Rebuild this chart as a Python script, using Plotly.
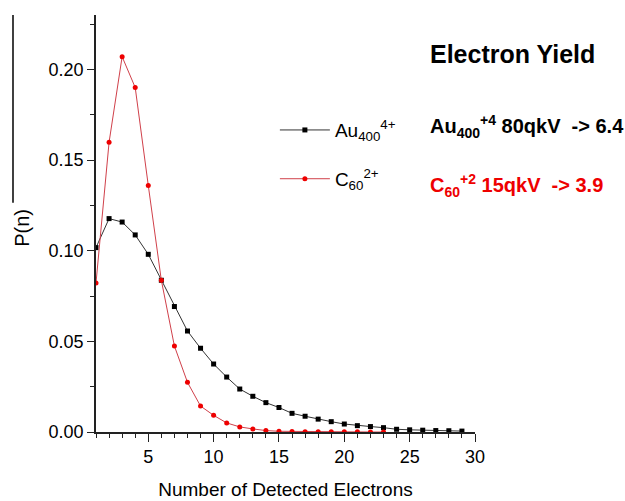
import plotly.graph_objects as go

n_au = list(range(1, 30))
p_au = [0.1017, 0.1177, 0.1158, 0.1087, 0.0980, 0.0837, 0.0692, 0.0557, 0.0462, 0.0375,
        0.0303, 0.0237, 0.0197, 0.0162, 0.0135, 0.0103, 0.0087, 0.0071, 0.0057, 0.0044,
        0.0035, 0.0030, 0.0024, 0.0015, 0.0012, 0.0010, 0.0008, 0.0007, 0.0005]

n_c60 = list(range(1, 24))
p_c60 = [0.0822, 0.1598, 0.2070, 0.1900, 0.1360, 0.0837, 0.0474, 0.0274, 0.0143, 0.0092,
         0.0050, 0.0028, 0.0017, 0.0008, 0.0004, 0.0003, 0.0002, 0.0002, 0.0001, 0.0001,
         0.0001, 0.0000, 0.0000]

au_name = "Au<sub>400</sub><sup>4+</sup>"
c60_name = "C<sub>60</sub><sup>2+</sup>"

FONT = "Liberation Sans, Arial"

fig = go.Figure()
fig.add_trace(go.Scatter(
    x=n_au, y=p_au, mode="lines+markers", name=au_name, showlegend=True,
    line=dict(color="#333333", width=1),
    marker=dict(symbol="square", size=5, color="black"),
    legend="legend"))
fig.add_trace(go.Scatter(
    x=n_c60, y=p_c60, mode="lines+markers", name=c60_name, showlegend=True,
    line=dict(color="#d0404a", width=1),
    marker=dict(symbol="circle", size=5, color="#ee0000"),
    legend="legend2"))

leg_common = dict(xanchor="left", yanchor="middle", bgcolor="rgba(0,0,0,0)",
                  font=dict(family=FONT, size=19), itemwidth=50)

fig.update_layout(
    width=625, height=501,
    margin=dict(l=96, r=150, t=15, b=69, autoexpand=False),
    showlegend=True,
    paper_bgcolor="white", plot_bgcolor="white",
    font=dict(family=FONT, size=18, color="black"),
    legend=dict(x=0.472, y=0.724, **leg_common),
    legend2=dict(x=0.472, y=0.607, **leg_common),
    xaxis=dict(range=[1, 30], tick0=0, dtick=5, showgrid=False, zeroline=False, automargin=False,
               showline=True, linecolor="#222", linewidth=1.5,
               ticks="outside", ticklen=8, tickcolor="#222",
               minor=dict(dtick=1, ticks="outside", ticklen=4, tickcolor="#222"),
               title=dict(text="Number of Detected Electrons", font=dict(family=FONT, size=19), standoff=16),
               tickfont=dict(family=FONT, size=18)),
    yaxis=dict(range=[0, 0.23], dtick=0.05, tickformat=".2f", showgrid=False, zeroline=False, automargin=False,
               showline=True, linecolor="#222", linewidth=1.5,
               ticks="outside", ticklen=7, tickcolor="#222",
               minor=dict(dtick=0.025, ticks="outside", ticklen=4, tickcolor="#222"),
               tickfont=dict(family=FONT, size=18)),
)

fig.add_annotation(text="P(n)", xref="paper", yref="paper", x=-0.195, y=0.49,
                   textangle=-90, showarrow=False, xanchor="center", yanchor="middle",
                   font=dict(family=FONT, size=20, color="black"))

fig.add_shape(type="line", xref="paper", yref="paper",
              x0=-0.219, x1=-0.219, y0=1.0, y1=0.55,
              line=dict(color="black", width=1.5))

fig.add_annotation(text="<b>Electron Yield</b>", xref="paper", yref="paper",
                   x=0.877, y=0.907, xanchor="left", yanchor="middle", showarrow=False,
                   font=dict(family=FONT, size=25, color="black"))
fig.add_annotation(text="<b>Au<sub>400</sub><sup>+4</sup> 80qkV  -&gt; 6.4</b>", xref="paper", yref="paper",
                   x=0.877, y=0.732, xanchor="left", yanchor="middle", showarrow=False,
                   font=dict(family=FONT, size=20, color="black"))
fig.add_annotation(text="<b>C<sub>60</sub><sup>+2</sup> 15qkV  -&gt; 3.9</b>", xref="paper", yref="paper",
                   x=0.877, y=0.592, xanchor="left", yanchor="middle", showarrow=False,
                   font=dict(family=FONT, size=20, color="#ee0000"))

fig.write_html("out.html", config={"displayModeBar": False},
               post_script="document.body.style.margin='0';document.body.style.overflow='hidden';")
